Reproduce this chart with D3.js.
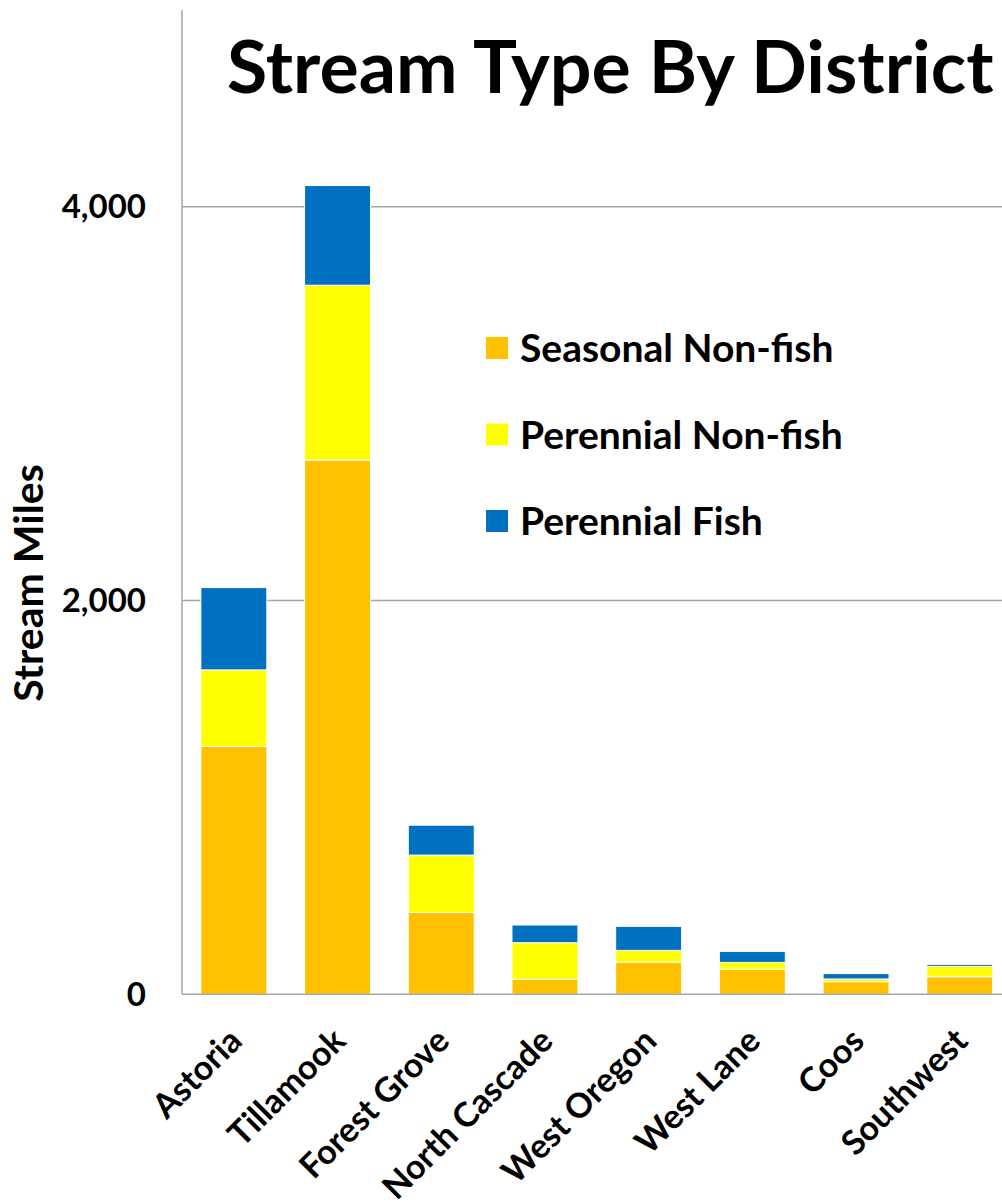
<!DOCTYPE html>
<html>
<head>
<meta charset="utf-8">
<script src="https://cdn.jsdelivr.net/npm/d3@7"></script>
<style>
  html, body { margin: 0; padding: 0; background: #fff; }
  svg text { font-family: Lato, "Open Sans", sans-serif; font-weight: 700; fill: #000; }
</style>
</head>
<body>
<svg id="chart" width="1002" height="1202"></svg>
<script>
const districts = ["Astoria", "Tillamook", "Forest Grove", "North Cascade", "West Oregon", "West Lane", "Coos", "Southwest"];
const seasonalNonFish = [1259, 2714, 416, 76, 164, 127, 64, 89];
const perennialNonFish = [389, 888, 291, 186, 59, 35, 14, 53];
const perennialFish = [418, 506, 152, 90, 122, 56, 27, 10];
const seriesNames = ["Seasonal Non-fish", "Perennial Non-fish", "Perennial Fish"];
const seriesColors = ["#FFC000", "#FFFF00", "#0070C0"];
const yTicks = [0, 2000, 4000];

const svg = d3.select("#chart");
const plot = { left: 182, right: 1011.6, top: 10, bottom: 994.3 };

const rows = districts.map((d, i) => ({
  district: d,
  "Seasonal Non-fish": seasonalNonFish[i],
  "Perennial Non-fish": perennialNonFish[i],
  "Perennial Fish": perennialFish[i]
}));
const stacked = d3.stack().keys(seriesNames)(rows);

const x = d3.scaleBand().domain(districts).range([plot.left, plot.right])
  .paddingInner(0.364).paddingOuter(0.182);
const y = d3.scaleLinear().domain([0, 5000]).range([plot.bottom, plot.top]);
const color = d3.scaleOrdinal().domain(seriesNames).range(seriesColors);

// gridlines
svg.append("g").selectAll("line").data(yTicks.filter(t => t > 0)).join("line")
  .attr("x1", plot.left).attr("x2", 1002)
  .attr("y1", d => y(d)).attr("y2", d => y(d))
  .attr("stroke", "#a6a6a6").attr("stroke-width", 1.5);

// bars
svg.append("g").selectAll("g").data(stacked).join("g")
  .attr("fill", d => color(d.key))
  .selectAll("rect").data(d => d).join("rect")
  .attr("x", d => x(d.data.district))
  .attr("width", x.bandwidth())
  .attr("y", d => y(d[1]))
  .attr("height", d => y(d[0]) - y(d[1]))
  .attr("stroke", "#fff").attr("stroke-width", 1);

// axes lines
svg.append("line").attr("x1", plot.left).attr("x2", plot.left)
  .attr("y1", plot.top).attr("y2", plot.bottom)
  .attr("stroke", "#a6a6a6").attr("stroke-width", 1.5);
svg.append("line").attr("x1", plot.left).attr("x2", 1002)
  .attr("y1", plot.bottom).attr("y2", plot.bottom)
  .attr("stroke", "#a6a6a6").attr("stroke-width", 1.5);

// y tick labels
const fmt = d3.format(",");
svg.append("g").selectAll("text").data(yTicks).join("text")
  .attr("x", 146).attr("y", d => y(d))
  .attr("dy", "0.35em")
  .attr("text-anchor", "end")
  .style("font-size", "33px")
  .text(d => fmt(d));

// y axis title
svg.append("text")
  .attr("transform", `translate(43, ${583}) rotate(-90)`)
  .attr("text-anchor", "middle")
  .style("font-size", "41px")
  .text("Stream Miles");

// x labels
svg.append("g").selectAll("text").data(districts).join("text")
  .attr("transform", d => `translate(${x(d) + x.bandwidth() / 2 + 10}, 1043) rotate(-45)`)
  .attr("text-anchor", "end")
  .style("font-size", "34px")
  .text(d => d);

// title
svg.append("text")
  .attr("x", 227).attr("y", 93)
  .style("font-size", "73.5px")
  .text("Stream Type By District");

// legend
const legend = svg.append("g").selectAll("g").data(seriesNames).join("g")
  .attr("transform", (d, i) => `translate(486, ${337 + i * 86.5})`);
legend.append("rect").attr("width", 22).attr("height", 22).attr("fill", d => color(d));
legend.append("text").attr("x", 34).attr("y", 11).attr("dy", "0.36em")
  .style("font-size", "39px").text(d => d);
</script>
</body>
</html>
